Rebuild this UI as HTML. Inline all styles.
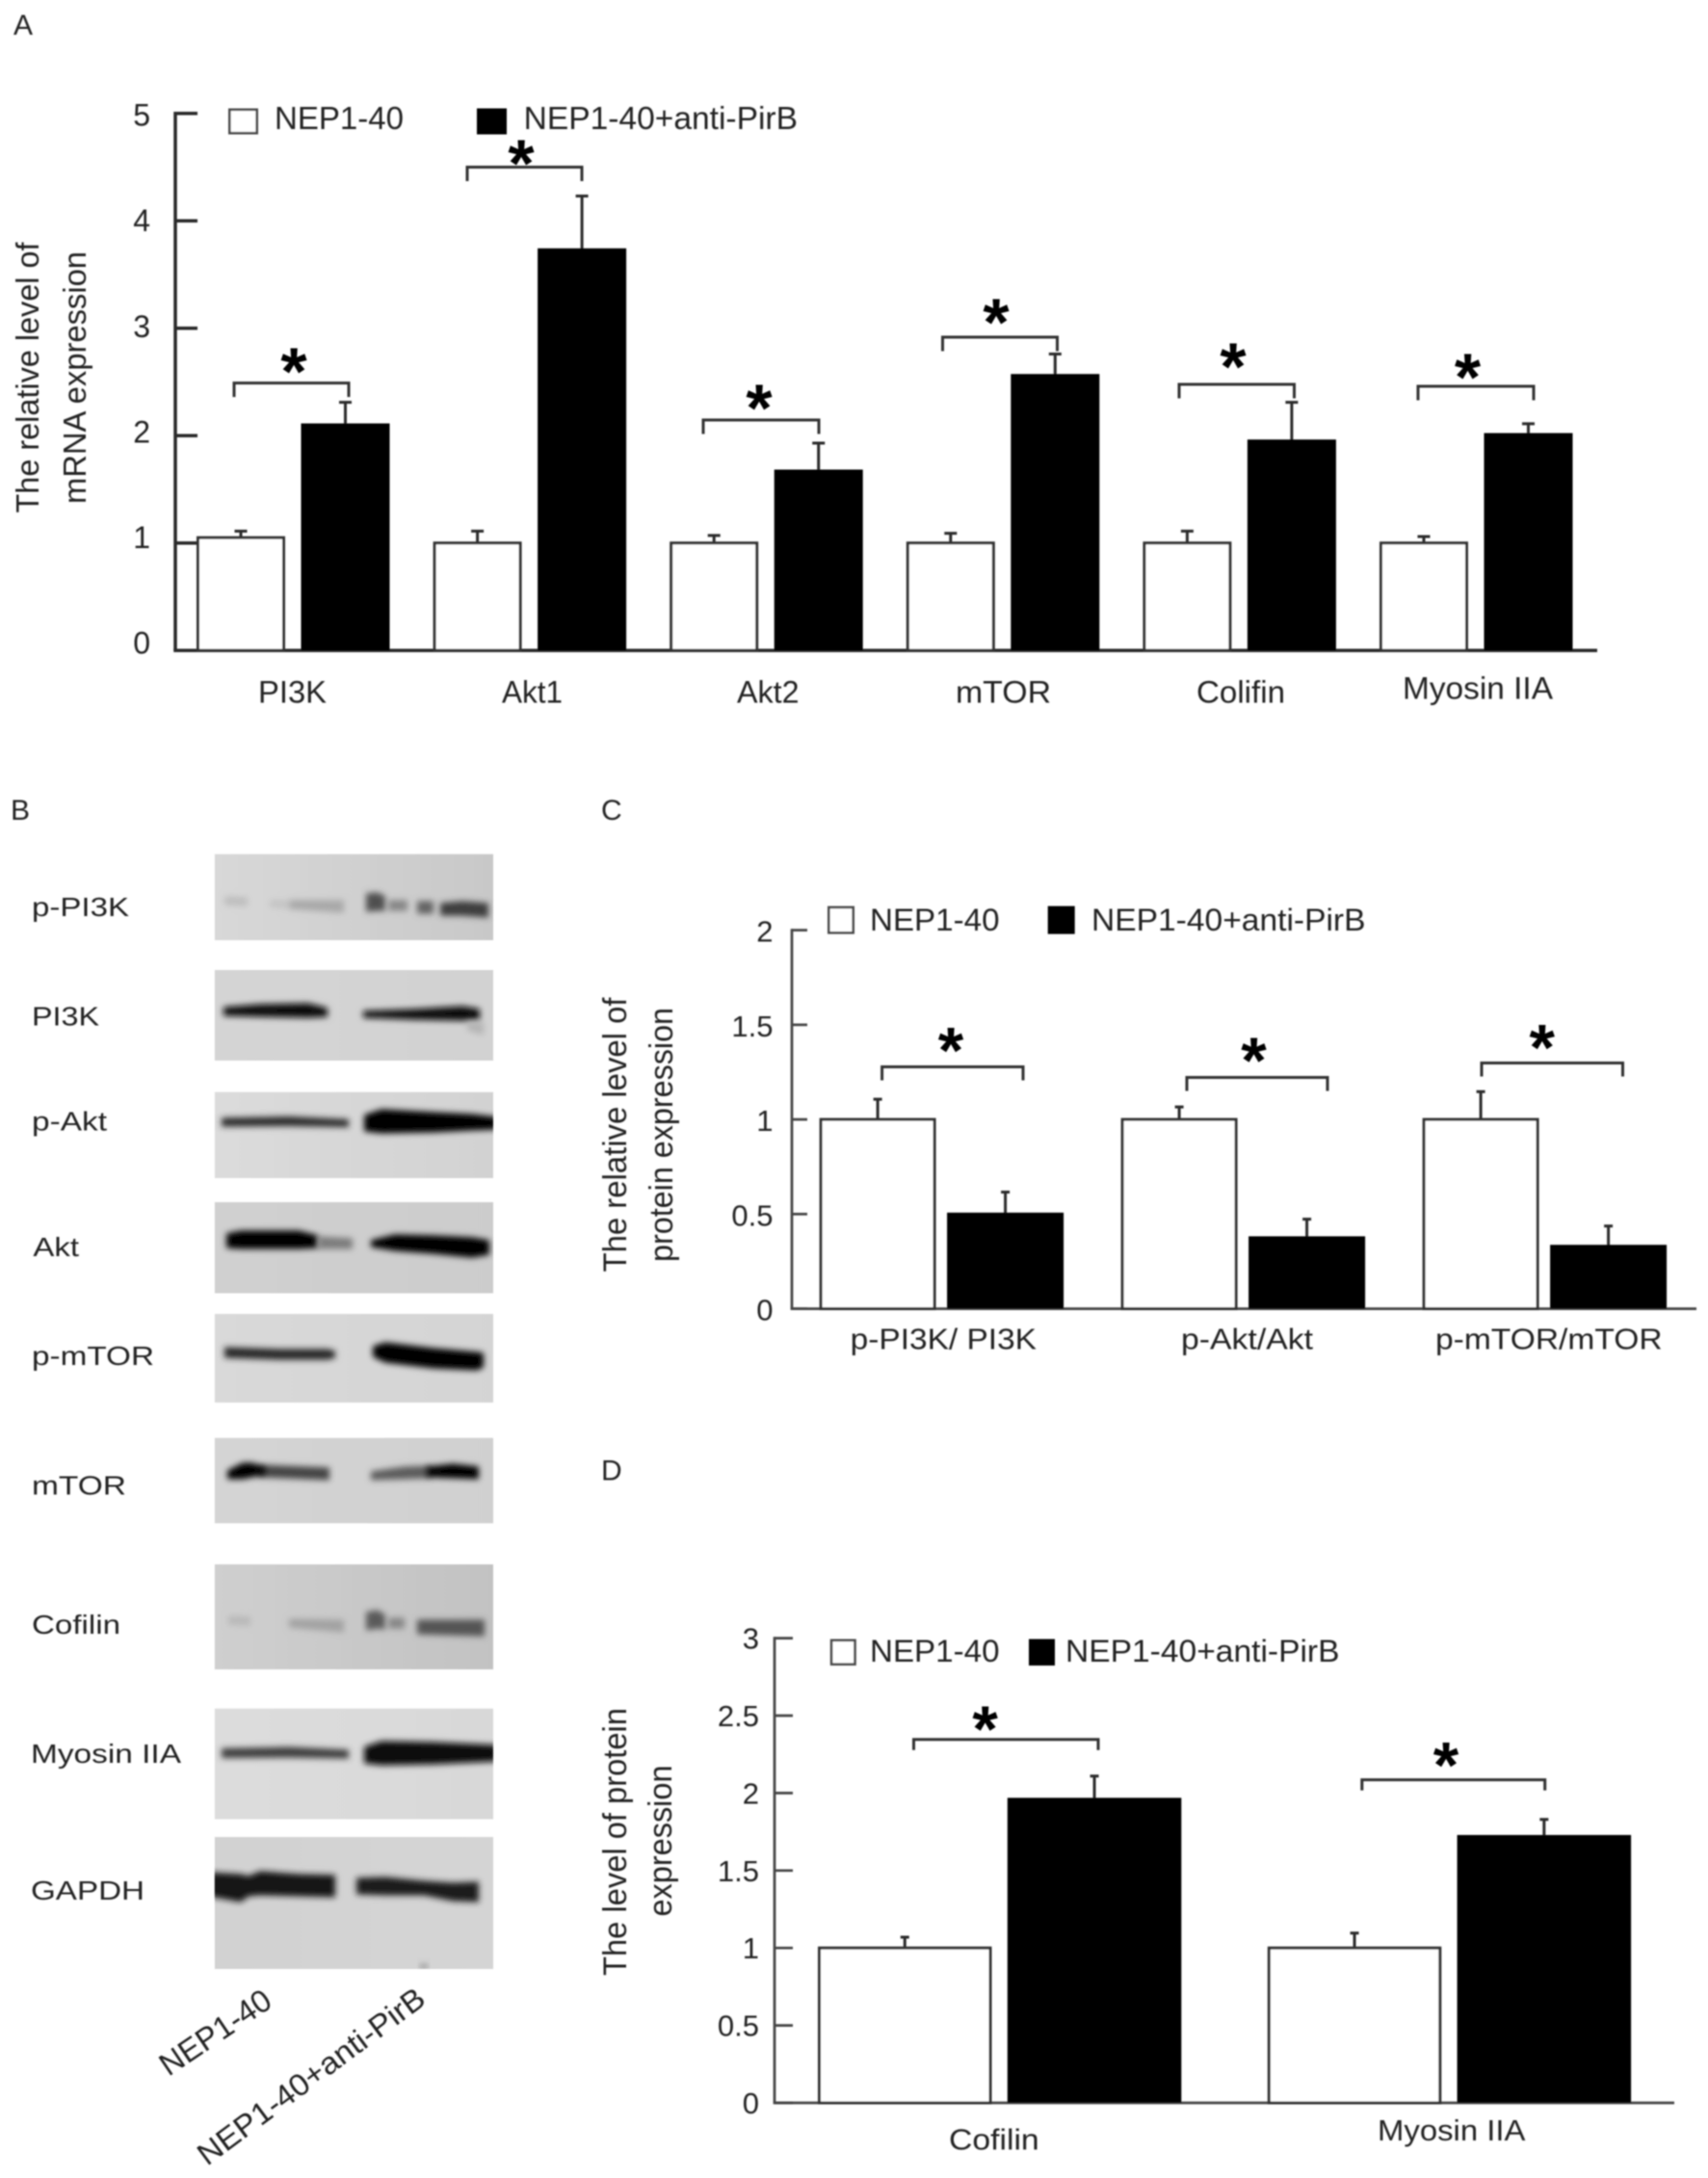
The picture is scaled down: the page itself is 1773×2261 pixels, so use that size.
<!DOCTYPE html>
<html lang="en">
<head>
<meta charset="utf-8">
<title>Western blot and expression bar charts</title>
<style>
html,body{margin:0;padding:0;background:#fff;}
#figure{display:block;width:1773px;height:2261px;}
text{font-family:"Liberation Sans",sans-serif;fill:#222;}
</style>
</head>
<body>
<svg id="figure" xmlns="http://www.w3.org/2000/svg" width="1773" height="2261" viewBox="0 0 1773 2261">
  <defs>
    <filter id="bandBlur" x="-30%" y="-200%" width="160%" height="500%"><feGaussianBlur stdDeviation="3.2"></feGaussianBlur></filter>
    <filter id="soft" x="-2%" y="-2%" width="104%" height="104%"><feGaussianBlur stdDeviation="0.7"></feGaussianBlur></filter>
  </defs>
  <rect x="0" y="0" width="1773" height="2261" fill="#ffffff"></rect>
  <g id="content" filter="url(#soft)"></g>
</svg>
<script>
/* ---------- Panel A data ---------- */
const aCategories = ['PI3K', 'Akt1', 'Akt2', 'mTOR', 'Colifin', 'Myosin IIA'];
const aControl = [1.05, 1.0, 1.0, 1.0, 1.0, 1.0];
const aControlTop = [1.11, 1.11, 1.07, 1.09, 1.11, 1.06];
const aTreated = [2.1, 3.73, 1.67, 2.56, 1.95, 2.01];
const aTreatedTop = [2.31, 4.23, 1.93, 2.76, 2.31, 2.11];
const aBracketLevels = [2.49, 4.5, 2.145, 2.917, 2.477, 2.459];
const aTicks = ['0', '1', '2', '3', '4', '5'];

/* ---------- Panel C data ---------- */
const cCategories = ['p-PI3K/ PI3K', 'p-Akt/Akt', 'p-mTOR/mTOR'];
const cControl = [1.0, 1.0, 1.0];
const cControlTop = [1.107, 1.066, 1.147];
const cTreated = [0.5, 0.375, 0.33];
const cTreatedTop = [0.616, 0.473, 0.437];
const cBracketLevels = [1.278, 1.222, 1.298];
const cTicks = ['0', '0.5', '1', '1.5', '2'];

/* ---------- Panel D data ---------- */
const dCategories = ['Cofilin', 'Myosin IIA'];
const dControl = [1.0, 1.0];
const dControlTop = [1.07, 1.096];
const dTreated = [1.96, 1.72];
const dTreatedTop = [2.11, 1.83];
const dBracketLevels = [2.346, 2.086];
const dTicks = ['0', '0.5', '1', '1.5', '2', '2.5', '3'];

const legendNames = ['NEP1-40', 'NEP1-40+anti-PirB'];

/* ---------- Panel B blot labels ---------- */
const blotNames = ['p-PI3K', 'PI3K', 'p-Akt', 'Akt', 'p-mTOR', 'mTOR', 'Cofilin', 'Myosin IIA', 'GAPDH'];
const laneNames = ['NEP1-40', 'NEP1-40+anti-PirB'];

/* ---------- Layout (geometry only) ---------- */
const layoutA = {
  x0: 182, y0: 675.2, unit: 111.5, xEnd: 1658, tickEnd: 205, lw: 3.5, ink: '#2a2a2a',
  groupStart: 204, groupStep: 245.6, barW: 92, treatedOff: 108.5,
  tickRight: 156, tickSize: 32, tickBase: 3.4, tickSlope: 1.9,
  catSize: 32, catX: [268, 521, 765, 992, 1242, 1456], catLen: [71, 63, 64.5, 99, 92, 156], catBase: [729.5, 729.5, 729.5, 729.5, 729.5, 725.6],
  bracketL: [243, 485, 730, 978.5, 1224, 1472], bracketR: [362, 604, 850, 1097.5, 1343.5, 1592], legH: 14.5,
  starX: [305, 541, 788, 1034, 1280, 1523.5], starLift: [21.8, 13.5, 22, 25, 28, 19], starSize: 70, capW: 13,
  legendY: 112.5, legendH: 27, boxX: [237, 495], boxW: 31, textX: [285, 543.6], textLen: [134, 284.4], textBase: 134, legendSize: 33,
  titles: [['The relative level of', 40, 392, 281, 33], ['mRNA expression', 89, 392, 262, 33]]
};
const layoutC = {
  x0: 822, y0: 1358.6, unit: 196.5, xEnd: 1761, tickEnd: 838, lw: 2.7, ink: '#444444',
  groupStart: 850.6, groupStep: 313, barW: 121, treatedOff: 132.5,
  tickRight: 802.5, tickSize: 31, tickBase: 12, tickSlope: 0,
  catSize: 31, catX: [882.7, 1226, 1490], catLen: [193.3, 137, 235.6], catBase: [1400.5, 1400.5, 1400.5],
  bracketL: [915.6, 1232, 1538], bracketR: [1062, 1378, 1684.5], legH: 14,
  starX: [987, 1301.5, 1600.7], starLift: [26.5, 27, 25.5], starSize: 68, capW: 9,
  legendY: 940.6, legendH: 29, boxX: [859, 1087.7], boxW: 28, textX: [903, 1133], textLen: [134.5, 284.5], textBase: 966, legendSize: 32,
  titles: [['The relative level of', 650, 1178, 285, 34], ['protein expression', 698, 1178, 264, 34]]
};
const layoutD = {
  x0: 804, y0: 2183, unit: 160.8, xEnd: 1738, tickEnd: 823, lw: 2.7, ink: '#444444',
  groupStart: 849, groupStep: 466.8, barW: 180.5, treatedOff: 196.8,
  tickRight: 788, tickSize: 31, tickBase: 11, tickSlope: 0,
  catSize: 31, catX: [985, 1430], catLen: [93.7, 153.5], catBase: [2231.6, 2221.8],
  bracketL: [948.5, 1413.8], bracketR: [1140, 1603.7], legH: 11,
  starX: [1022.6, 1501], starLift: [20.4, 24.8], starSize: 68, capW: 9,
  legendY: 1701.5, legendH: 27.5, boxX: [861.8, 1068], boxW: 27, textX: [903, 1106], textLen: [134.5, 284.5], textBase: 1724.8, legendSize: 32,
  titles: [['The level of protein', 650, 1912, 278, 34], ['expression', 697, 1911, 157, 34]]
};

const SVGNS = 'http://www.w3.org/2000/svg';
const root = document.getElementById('content');

function make(tag, attrs, parent) {
  const node = document.createElementNS(SVGNS, tag);
  Object.keys(attrs).forEach(function (k) { node.setAttribute(k, attrs[k]); });
  parent.appendChild(node);
  return node;
}

function writeText(parent, str, x, y, size, len, anchor, angle, weight) {
  const attrs = { 'font-size': size, 'text-anchor': anchor || 'start' };
  if (len) {
    attrs.textLength = len;
    attrs.lengthAdjust = 'spacingAndGlyphs';
  }
  if (weight) attrs['font-weight'] = weight;
  if (angle) {
    attrs.transform = 'translate(' + x + ' ' + y + ') rotate(' + angle + ')';
  } else {
    attrs.x = x;
    attrs.y = y;
  }
  const t = make('text', attrs, parent);
  t.textContent = str;
  return t;
}

function drawPanel(L, prefix, categories, control, controlTop, treated, treatedTop, levels, ticks) {
  const g = make('g', {}, root);
  
  

  const yScale = function (v) { return L.y0 - v * L.unit; };
  const xScale = function (i) { return L.groupStart + i * L.groupStep; };
  const tickValues = ticks.map(Number);
  const yTop = yScale(Math.max.apply(null, tickValues));
  const ink = L.ink;

  const yAxis = make('line', { x1: L.x0, x2: L.x0, y1: yTop - L.lw / 2, y2: L.y0, stroke: ink, 'stroke-width': L.lw }, g);
  
  

  const xAxis = make('line', { x1: L.x0 - L.lw / 2, x2: L.xEnd, y1: L.y0, y2: L.y0, stroke: ink, 'stroke-width': L.lw }, g);
  
  

  ticks.forEach(function (label) {
    const v = Number(label);
    const mark = make('line', { x1: L.x0, x2: L.tickEnd, y1: yScale(v), y2: yScale(v), stroke: ink, 'stroke-width': L.lw }, g);
    
    
    const t = writeText(g, label, L.tickRight, yScale(v) + L.tickBase + L.tickSlope * v, L.tickSize, 0, 'end');
    
    
  });

  categories.forEach(function (name, i) {
    const x = xScale(i);
    const xT = x + L.treatedOff;
    const midC = x + L.barW / 2;
    const midT = xT + L.barW / 2;

    const errC = make('path', { d: 'M' + midC + ' ' + yScale(control[i]) + 'V' + yScale(controlTop[i]) + 'M' + (midC - L.capW / 2) + ' ' + yScale(controlTop[i]) + 'H' + (midC + L.capW / 2), stroke: '#2a2a2a', 'stroke-width': 3, fill: 'none' }, g);
    
    

    const errT = make('path', { d: 'M' + midT + ' ' + yScale(treated[i]) + 'V' + yScale(treatedTop[i]) + 'M' + (midT - L.capW / 2) + ' ' + yScale(treatedTop[i]) + 'H' + (midT + L.capW / 2), stroke: '#2a2a2a', 'stroke-width': 3, fill: 'none' }, g);
    
    

    const barC = make('rect', { x: x + 1.5, y: yScale(control[i]), width: L.barW - 3, height: L.y0 - yScale(control[i]), fill: '#ffffff', stroke: '#333333', 'stroke-width': 3 }, g);
    
    

    const barT = make('rect', { x: xT, y: yScale(treated[i]) - 1.5, width: L.barW, height: L.y0 - yScale(treated[i]) + 1.5, fill: '#000000' }, g);
    
    

    const by = yScale(levels[i]);
    const bracket = make('path', { d: 'M' + L.bracketL[i] + ' ' + (by + L.legH) + 'V' + by + 'H' + L.bracketR[i] + 'V' + (by + L.legH), stroke: '#333333', 'stroke-width': 3, fill: 'none' }, g);
    
    

    const star = writeText(g, '*', L.starX[i], by - L.starLift[i] + 0.48 * L.starSize, L.starSize, 0, 'middle', 0, 'bold');
    star.setAttribute('style', 'fill:#000');
    
    

    const cat = writeText(g, name, L.catX[i], L.catBase[i], L.catSize, L.catLen[i], 'start');
    
    
  });

  const boxOne = make('rect', { x: L.boxX[0] + 1.3, y: L.legendY + 1.3, width: L.boxW - 2.6, height: L.legendH - 2.6, fill: '#ffffff', stroke: '#4a4a4a', 'stroke-width': 2.6 }, g);
  
  

  const boxTwo = make('rect', { x: L.boxX[1], y: L.legendY, width: L.boxW, height: L.legendH, fill: '#000000' }, g);
  
  

  const legOne = writeText(g, legendNames[0], L.textX[0], L.textBase, L.legendSize, L.textLen[0], 'start');
  
  

  const legTwo = writeText(g, legendNames[1], L.textX[1], L.textBase, L.legendSize, L.textLen[1], 'start');
  
  

  L.titles.forEach(function (line) {
    const title = writeText(g, line[0], line[1], line[2], line[4], line[3], 'middle', -90);
    
    
  });
}

drawPanel(layoutA, 'panel-a', aCategories, aControl, aControlTop, aTreated, aTreatedTop, aBracketLevels, aTicks);
drawPanel(layoutC, 'panel-c', cCategories, cControl, cControlTop, cTreated, cTreatedTop, cBracketLevels, cTicks);
drawPanel(layoutD, 'panel-d', dCategories, dControl, dControlTop, dTreated, dTreatedTop, dBracketLevels, dTicks);

/* ---------- Panel letters ---------- */
const letters = [['A', 14, 36], ['B', 11, 851], ['C', 624, 851], ['D', 624, 1536.4]];
letters.forEach(function (item) {
  const t = writeText(root, item[0], item[1], item[2], 30, 0, 'start');
  
  
});

/* ---------- Panel B western blots: band outlines are [x, centre-y, half-height] ---------- */
const blotLayout = [
  { top: 886.6, bottom: 976, left: '#d8d8d8', right: '#c8c8c8', tx: 33, tb: 951, tl: 101, bands: [
    ['#bdbdbd', [[233,935,4],[257,936,4]]],
    ['#c2c2c2', [[280,938,3],[300,939,3]]],
    ['#a8a8a8', [[300,939,4],[357,941,6]]],
    ['#505050', [[380,937,9],[392,936,9],[400,938,7]]],
    ['#868686', [[403,940,5],[423,940,5]]],
    ['#646464', [[433,942,6],[450,942,6]]],
    ['#3e3e3e', [[457,944,6],[480,943,7],[507,945,7]]]
  ] },
  { top: 1007, bottom: 1101, left: '#d4d4d4', right: '#d2d2d2', tx: 33, tb: 1064.7, tl: 70, bands: [
    ['#0c0c0c', [[232,1050,4],[270,1049,6],[320,1049,7],[340,1051,4]]],
    ['#101010', [[377,1053,3],[430,1053,5],[480,1052,7],[498,1053,5]]],
    ['#b4b4b4', [[485,1065,4],[502,1068,6]]]
  ] },
  { top: 1133.6, bottom: 1223, left: '#dbdbdb', right: '#d2d2d2', tx: 33, tb: 1173.5, tl: 78, bands: [
    ['#2a2a2a', [[230,1165,4],[300,1164,4.5],[362,1166,3.5]]],
    ['#000000', [[378,1166,8],[396,1164,12],[450,1165,10],[490,1165,8],[516,1166,6]]]
  ] },
  { top: 1248, bottom: 1342.5, left: '#d0d0d0', right: '#cccccc', tx: 34.4, tb: 1304, tl: 47.6, bands: [
    ['#000000', [[235,1288,7],[250,1287,9],[310,1287,9],[330,1289,6]]],
    ['#7c7c7c', [[330,1290,6],[366,1291,5]]],
    ['#000000', [[385,1291,3],[410,1290,8],[450,1292,9],[490,1295,10],[508,1295,7]]]
  ] },
  { top: 1364, bottom: 1456, left: '#d9d9d9', right: '#d4d4d4', tx: 33, tb: 1417, tl: 127, bands: [
    ['#262626', [[233,1404,5],[290,1406,5],[340,1406,5],[348,1406,3]]],
    ['#000000', [[387,1403,5],[400,1404,10],[450,1410,10],[495,1413,9],[502,1412,7]]]
  ] },
  { top: 1492.6, bottom: 1581.4, left: '#d4d4d4', right: '#d0d0d0', tx: 33, tb: 1551.5, tl: 98, bands: [
    ['#444444', [[268,1527,6],[342,1530,6]]],
    ['#000000', [[236,1531,4],[252,1527,8],[262,1526,7],[275,1527,3]]],
    ['#5c5c5c', [[385,1532,4],[420,1529,6],[447,1528,6]]],
    ['#060606', [[443,1528,5],[470,1527,7],[497,1529,6]]]
  ] },
  { top: 1624, bottom: 1733, left: '#cfcfcf', right: '#c2c2c2', tx: 33, tb: 1696, tl: 92, bands: [
    ['#b8b8b8', [[237,1682,4],[260,1683,4]]],
    ['#a2a2a2', [[300,1685,4],[357,1688,6]]],
    ['#5a5a5a', [[380,1683,9],[392,1681,9],[400,1684,7]]],
    ['#868686', [[403,1685,5],[420,1685,5]]],
    ['#545454', [[433,1689,7],[503,1690,8]]]
  ] },
  { top: 1773.6, bottom: 1888.5, left: '#dcdcdc', right: '#d8d8d8', tx: 32, tb: 1830, tl: 156, bands: [
    ['#3c3c3c', [[230,1820,4.5],[300,1819,5],[362,1821,4]]],
    ['#101010', [[378,1822,8],[396,1820,12],[450,1820,11],[516,1820,8]]]
  ] },
  { top: 1907, bottom: 2044, left: '#d2d2d2', right: '#d4d4d4', tx: 32, tb: 1972, tl: 118, bands: [
    ['#141414', [[216,1956,12],[250,1960,14],[258,1958,10],[270,1955,12],[310,1957,11],[348,1958,11]]],
    ['#1c1c1c', [[370,1958,8],[400,1958,9],[440,1960,7],[470,1964,9],[497,1964,10]]],
    ['#7a7a7a', [[436,2041.5,1.2],[444,2041.5,1.2]]]
  ] }
];

const blotGroup = make('g', {}, root);



const blotDefs = document.querySelector('#figure defs');
blotLayout.forEach(function (blot, i) {
  const gradId = 'blotGrad' + i;
  const clipId = 'blotClip' + i;
  const grad = make('linearGradient', { id: gradId, x1: 0, x2: 1, y1: 0, y2: 0 }, blotDefs);
  make('stop', { offset: '0%', 'stop-color': blot.left }, grad);
  make('stop', { offset: '100%', 'stop-color': blot.right }, grad);
  const clip = make('clipPath', { id: clipId }, blotDefs);
  make('rect', { x: 222.8, y: blot.top, width: 289.2, height: blot.bottom - blot.top }, clip);

  const strip = make('g', { 'clip-path': 'url(#' + clipId + ')' }, blotGroup);
  
  

  const bg = make('rect', { x: 222.8, y: blot.top, width: 289.2, height: blot.bottom - blot.top, fill: 'url(#' + gradId + ')' }, strip);
  
  

  blot.bands.forEach(function (b) {
    const upper = b[1].map(function (p) { return p[0] + ',' + (p[1] - p[2] - 0.6); });
    const lower = b[1].slice().reverse().map(function (p) { return p[0] + ',' + (p[1] + p[2] + 0.6); });
    const band = make('polygon', { points: upper.concat(lower).join(' '), fill: b[0], filter: 'url(#bandBlur)' }, strip);
    
    
  });

  const name = writeText(blotGroup, blotNames[i], blot.tx, blot.tb, 28, blot.tl, 'start');
  
  
});

const laneOne = writeText(blotGroup, laneNames[0], 175, 2156, 33, 132, 'start', -34);



const laneTwo = writeText(blotGroup, laneNames[1], 215, 2249, 32, 285, 'start', -36.6);


</script>
</body>
</html>
